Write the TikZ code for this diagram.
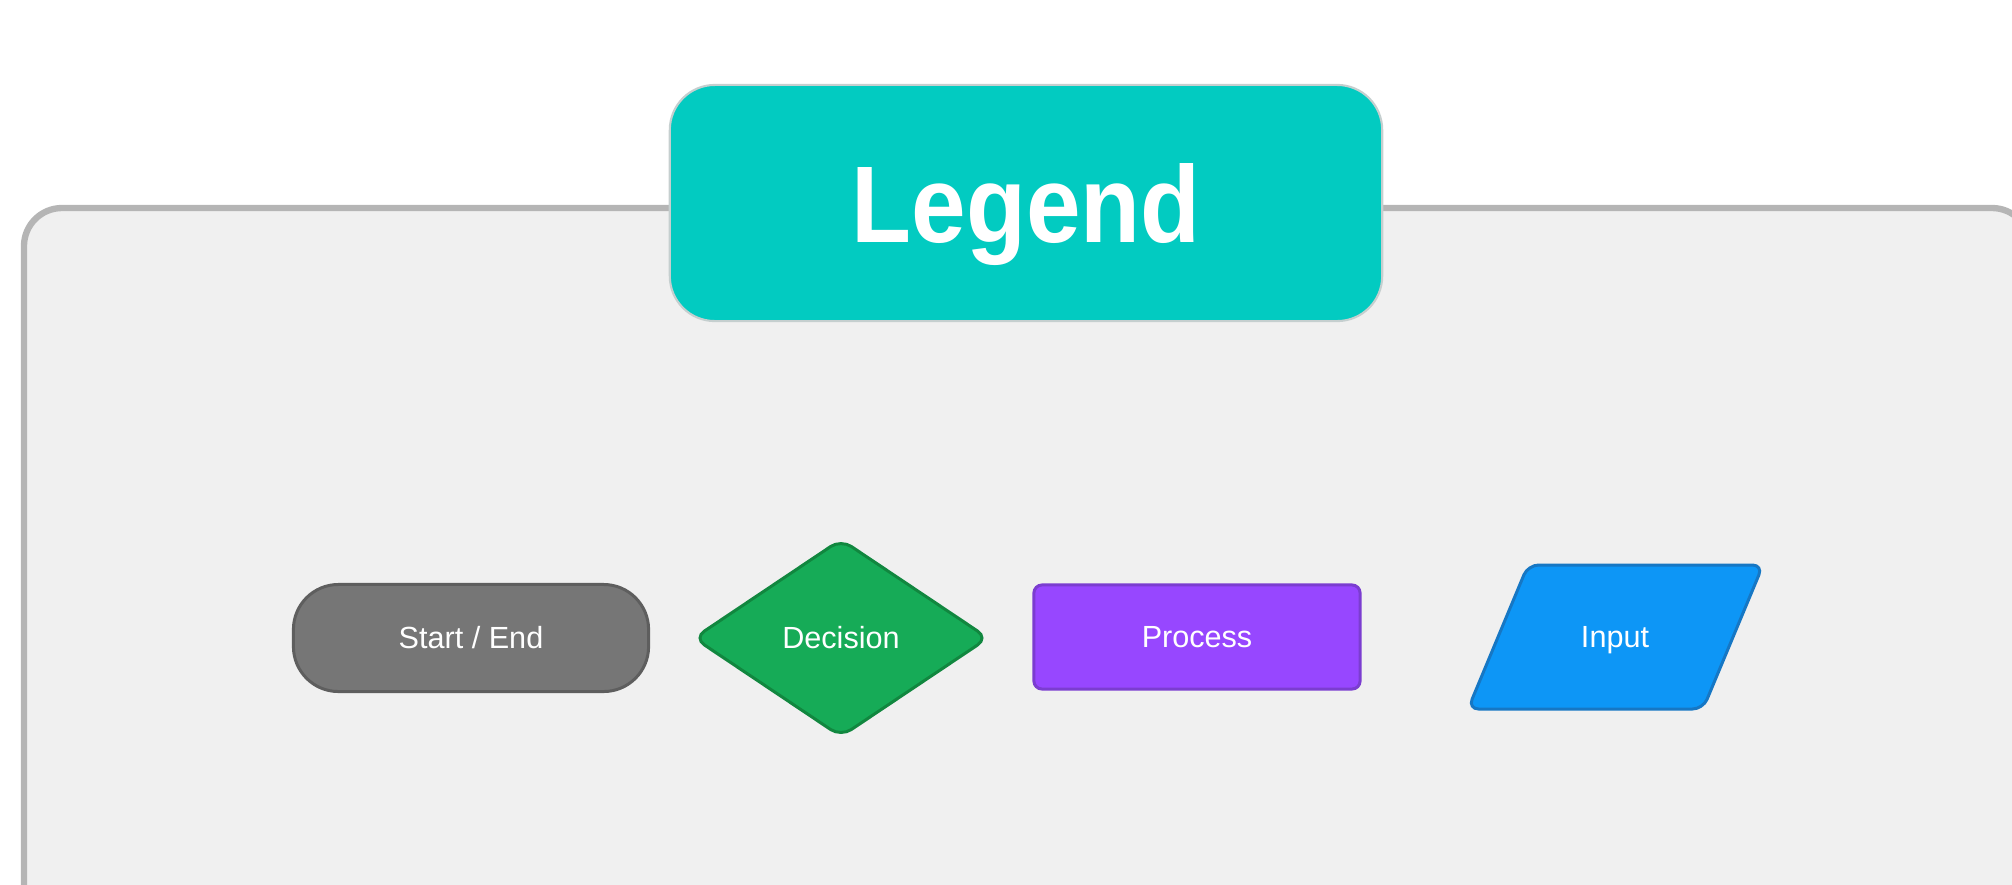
\documentclass[tikz,border=0pt]{standalone}
\usepackage{fontspec}
\setmainfont{Liberation Sans}
\newfontfamily\titlefont{Liberation Sans}[FakeStretch=0.9]
\usetikzlibrary{shapes.geometric}

\definecolor{panelfill}{HTML}{F0F0F0}
\definecolor{panelline}{HTML}{B5B5B5}
\definecolor{titlefill}{HTML}{02CBC1}
\definecolor{titleline}{HTML}{C5CFCF}
\definecolor{startfill}{HTML}{767676}
\definecolor{startline}{HTML}{5E5E5E}
\definecolor{decfill}{HTML}{16AB57}
\definecolor{decline}{HTML}{11873F}
\definecolor{procfill}{HTML}{9747FF}
\definecolor{procline}{HTML}{7B3DD0}
\definecolor{inpfill}{HTML}{0D96F6}
\definecolor{inpline}{HTML}{1677C4}

\tikzset{
  legendlabel/.style={text=white, inner sep=0pt,
    font=\fontsize{8.7pt}{10pt}\selectfont, text height=6.2pt, text depth=0pt},
  legendshape/.style={legendlabel, draw, line width=0.85pt},
}

\begin{document}
\begin{tikzpicture}[x=0.01cm,y=-0.01cm]
\useasboundingbox (0,0) rectangle (2012,884);

% grey panel, runs off the right and bottom
\begin{scope}
\clip (0,0) rectangle (2012,884);
\draw[fill=panelfill, draw=panelline, line width=1.8pt, rounded corners=0.38cm] (24,208) rectangle (2030,1000);
\end{scope}

% title tab
\node[draw=titleline, fill=titlefill, line width=0.6pt, rounded corners=0.45cm,
  minimum width=7.12cm, minimum height=2.36cm, inner sep=0pt, text=white,
  font=\titlefont\bfseries\fontsize{31pt}{35pt}\selectfont, text height=22.2pt, text depth=0pt]
  (legend) at (1026,203) {Legend};

% the four symbols
\node[legendshape, fill=startfill, draw=startline, rounded corners=0.45cm,
  minimum width=3.55cm, minimum height=1.07cm] (startend) at (471,638) {Start / End};
\node[legendshape, diamond, fill=decfill, draw=decline, rounded corners=3.5pt,
  minimum width=2.95cm, minimum height=1.98cm] (decision) at (841,638) {Decision};
\node[legendshape, fill=procfill, draw=procline, rounded corners=0.08cm,
  minimum width=3.26cm, minimum height=1.04cm] (process) at (1197,637) {Process};

\draw[fill=inpfill, draw=inpline, line width=0.85pt, rounded corners=3pt]
  (1528,565) -- (1763,565) -- (1703,709) -- (1468,709) -- cycle;
\node[legendlabel] (input) at (1615,637) {Input};

\end{tikzpicture}
\end{document}
